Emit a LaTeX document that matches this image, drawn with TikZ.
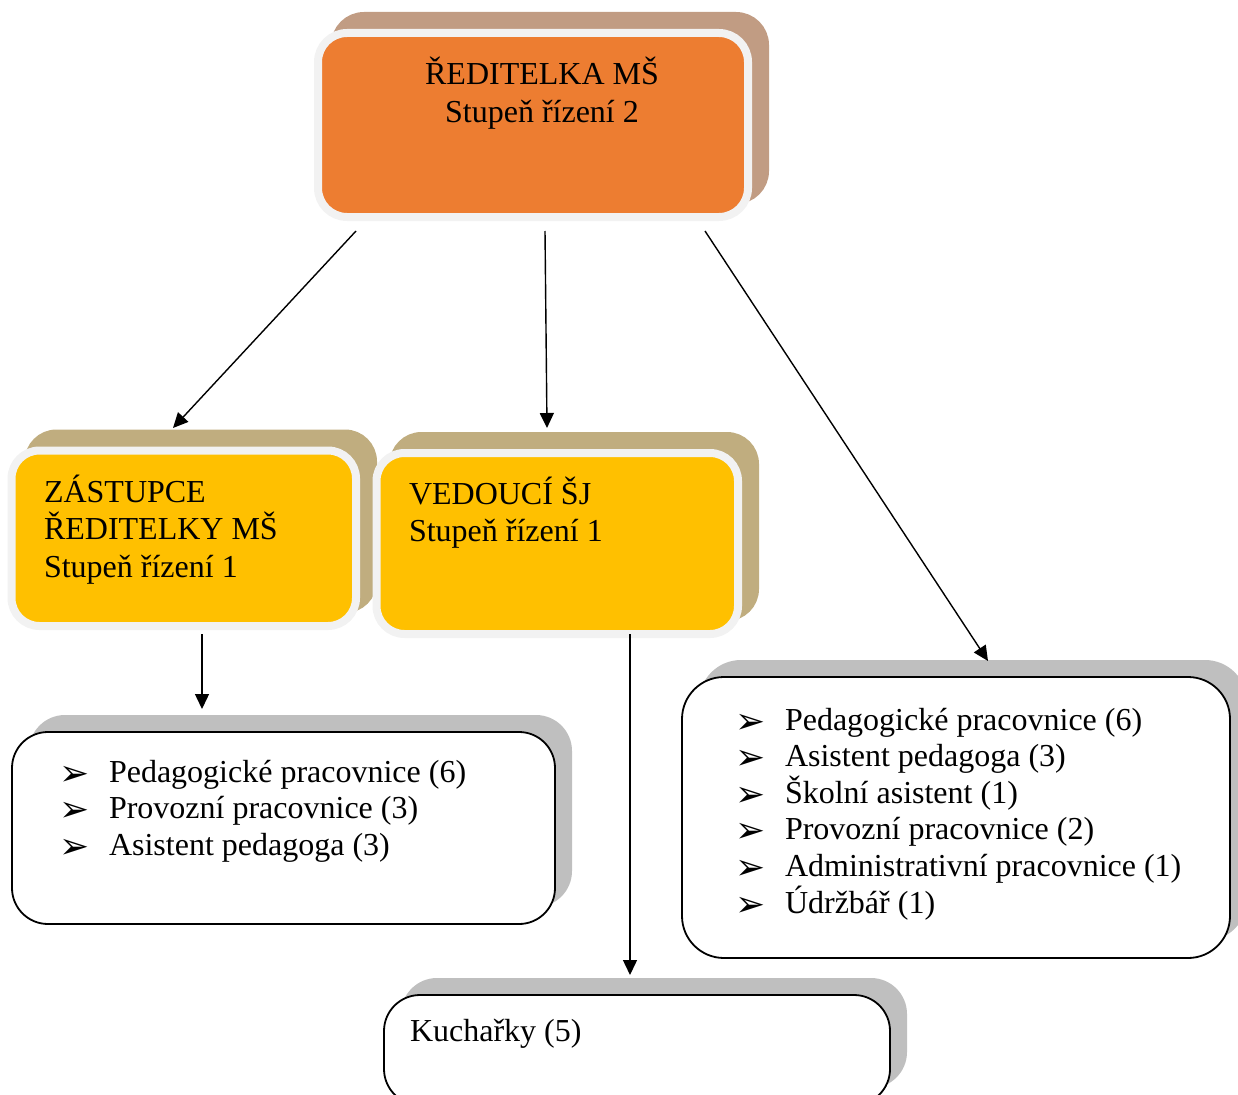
\documentclass[tikz,border=0pt]{standalone}
\usepackage{fontspec}
\setmainfont{Liberation Serif}
\newfontfamily\dejavu{DejaVu Sans}
\usetikzlibrary{shadows,arrows.meta,calc}
\definecolor{dirorange}{HTML}{ED7D31}
\definecolor{ringgray}{HTML}{F2F2F2}
\definecolor{dirshadow}{RGB}{193,156,131}
\definecolor{ldryellow}{HTML}{FFC000}
\definecolor{ldrshadow}{RGB}{192,173,127}
\definecolor{boxshadow}{HTML}{BFBFBF}
\newcommand\mybul{\makebox[47pt][l]{\kern-3pt\raisebox{-3pt}{\dejavu\fontsize{36}{36}\selectfont ➢}}}
\newcommand\firstline{\rule{0pt}{30pt}}
\begin{document}
\begin{tikzpicture}[x=1pt,y=-1pt,
  txt/.style={inner sep=0pt, outer sep=0pt, font=\fontsize{32}{36.6}\selectfont, align=left, anchor=north west},
  ldrtxt/.style={txt, font=\fontsize{32}{37.5}\selectfont},
  dirbox/.style={rectangle, rounded corners=29pt, draw=ringgray, line width=8pt, fill=dirorange,
    general shadow={fill=dirshadow, draw=dirshadow, line width=8pt, shadow xshift=17pt, shadow yshift=17pt}},
  leader/.style={rectangle, rounded corners=28pt, draw=ringgray, line width=8pt, fill=ldryellow,
    general shadow={fill=ldrshadow, draw=ldrshadow, line width=8pt, shadow xshift=17pt, shadow yshift=17pt}},
  listbox/.style={rectangle, draw=black, line width=1.8pt, fill=white,
    general shadow={fill=boxshadow, shadow xshift=17pt, shadow yshift=17pt}},
  arr/.style={line width=1.4pt, -{Triangle[length=15pt,width=14pt]}}
]
\useasboundingbox (0,0) rectangle (1238,1094);
\clip (0,0) rectangle (1238,1094);

% top box
\node[dirbox, minimum width=430pt, minimum height=184pt] (dir) at (533,125) {};
\node[ldrtxt, anchor=north, align=center, font=\fontsize{32}{38}\selectfont] (dirtext) at (542,55) {\firstline ŘEDITELKA MŠ\\Stupeň řízení 2};

% leaders
\node[leader, minimum width=344.5pt, minimum height=175.5pt] (zas) at (183.75,538.25) {};
\node[ldrtxt] (zastext) at (44,472) {\firstline ZÁSTUPCE\\ŘEDITELKY MŠ\\Stupeň řízení 1};

\node[leader, minimum width=361.5pt, minimum height=181pt] (ved) at (557.25,543.5) {};
\node[ldrtxt] (vedtext) at (409,474) {\firstline VEDOUCÍ ŠJ\\Stupeň řízení 1};

% staff boxes
\node[listbox, rounded corners=36pt, minimum width=543pt, minimum height=192pt] (lb) at (283.5,828) {};
\node[txt] (lbtext) at (62,752) {\firstline\mybul Pedagogické pracovnice (6)\\\mybul Provozní pracovnice (3)\\\mybul Asistent pedagoga (3)};

\node[listbox, rounded corners=42pt, minimum width=548pt, minimum height=281pt] (rb) at (956,817.5) {};
\node[txt] (rbtext) at (738,700) {\firstline\mybul Pedagogické pracovnice (6)\\\mybul Asistent pedagoga (3)\\\mybul Školní asistent (1)\\\mybul Provozní pracovnice (2)\\\mybul Administrativní pracovnice (1)\\\mybul Údržbář (1)};

\node[listbox, rounded corners=36pt, minimum width=506pt, minimum height=110pt] (kb) at (637,1050) {};
\node[txt] (kbtext) at (410,1011) {\firstline Kuchařky (5)};

% connector ends
\coordinate (dirA) at (356,231); \coordinate (zasIn) at (173,428);
\coordinate (dirB) at (545,231); \coordinate (vedIn) at (547,428);
\coordinate (dirC) at (705,231); \coordinate (rbIn) at (988,661);
\coordinate (zasOut) at (202,634); \coordinate (lbIn) at (202,709);
\coordinate (vedOut) at (630,634); \coordinate (kbIn) at (630,975);

\draw[arr] (dirA) -- (zasIn);
\draw[arr] (dirB) -- (vedIn);
\draw[arr] (dirC) -- (rbIn);
\draw[arr] (zasOut) -- (lbIn);
\draw[arr] (vedOut) -- (kbIn);
\end{tikzpicture}
\end{document}
